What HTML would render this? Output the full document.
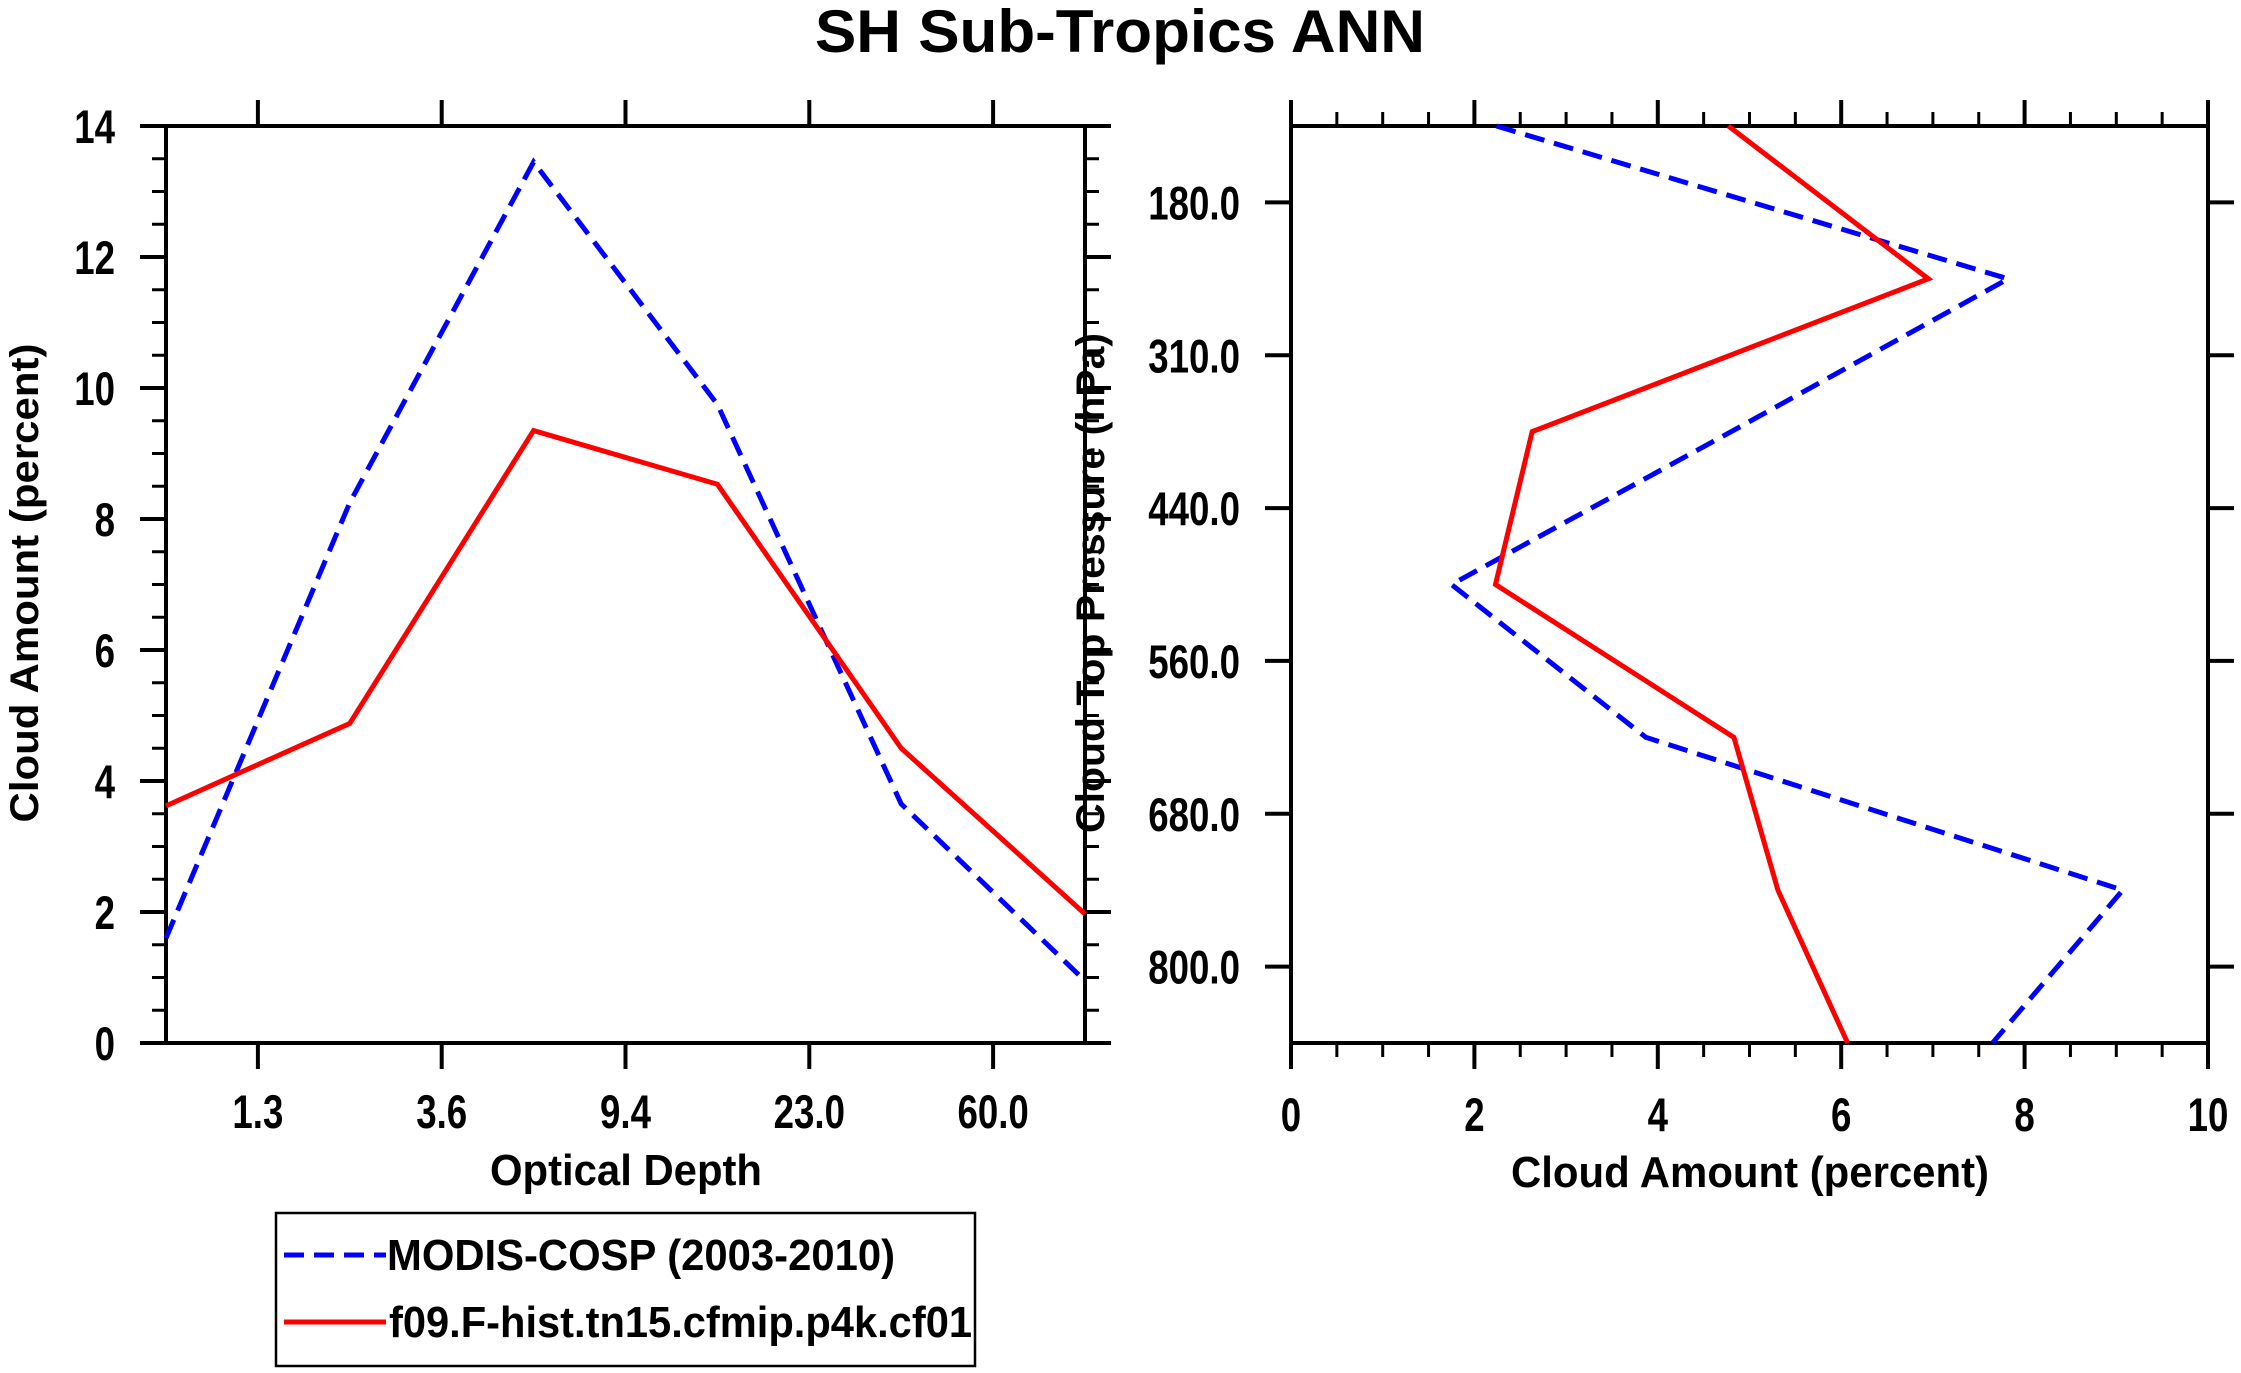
<!DOCTYPE html>
<html><head><meta charset="utf-8"><style>
html,body{margin:0;padding:0;background:#fff}
svg{display:block}
text{font-family:"Liberation Sans",sans-serif;font-weight:bold;fill:#000}
</style></head><body>
<svg id="chart" xmlns="http://www.w3.org/2000/svg" width="2241" height="1373" viewBox="0 0 2241 1373">
<text x="1120" y="52" font-size="60" text-anchor="middle" textLength="610" lengthAdjust="spacingAndGlyphs">SH Sub-Tropics ANN</text>
<g id="left"></g>
<g id="right"></g>
<g>
<rect x="276" y="1213" width="699" height="153" fill="none" stroke="#000" stroke-width="2.5"/>
<line x1="284" y1="1255" x2="386" y2="1255" stroke="#0000ff" stroke-width="5" stroke-dasharray="20 10"/>
<text x="387" y="1270" font-size="44" textLength="508" lengthAdjust="spacingAndGlyphs">MODIS-COSP (2003-2010)</text>
<line x1="284" y1="1322" x2="386" y2="1322" stroke="#ff0000" stroke-width="5"/>
<text x="389" y="1337" font-size="44" textLength="583" lengthAdjust="spacingAndGlyphs">f09.F-hist.tn15.cfmip.p4k.cf01</text>
</g>
</svg>
<script>
// Left panel data
const odCategoryIndex = [0, 1, 2, 3, 4, 5];
const odTickLabels = ["1.3", "3.6", "9.4", "23.0", "60.0"];
const odModis = [1.6, 8.25, 13.45, 9.75, 3.65, 0.95];
const odModel = [3.62, 4.88, 9.35, 8.53, 4.5, 1.97];
const odYTicks = [0, 2, 4, 6, 8, 10, 12, 14];
// Right panel data
const ctpLevelIndex = [0, 1, 2, 3, 4, 5, 6];
const ctpTickLabels = ["180.0", "310.0", "440.0", "560.0", "680.0", "800.0"];
const ctpModis = [2.24, 7.82, 4.8, 1.75, 3.87, 9.07, 7.65];
const ctpModel = [4.77, 6.95, 2.63, 2.23, 4.83, 5.31, 6.07];
const amtXTicks = [0, 2, 4, 6, 8, 10];

const NS = "http://www.w3.org/2000/svg";
function mk(parent, tag, attrs) {
  const e = document.createElementNS(NS, tag);
  for (const k in attrs) e.setAttribute(k, attrs[k]);
  parent.appendChild(e);
  return e;
}
const T = 26, TM = 14, SW = 4, LW = 5, FS = 47, SX = 0.78;
function label(parent, x, y, txt, anchor) {
  const t = mk(parent, 'text', {x: 0, y: 0, 'font-size': FS, 'text-anchor': anchor, transform: 'translate(' + x + ',' + y + ') scale(' + SX + ',1)'});
  t.textContent = txt;
  return t;
}

// ---- Left panel
const L = document.getElementById('left');
const lx0 = 166, lx1 = 1085, ly0 = 126, ly1 = 1043;
const lxs = v => lx0 + (lx1 - lx0) * v / 5;
const lys = v => ly1 - (ly1 - ly0) * v / 14;
for (let v = 0; v <= 14; v += 0.5) {
  const major = v % 2 === 0;
  const len = major ? T : TM;
  const t1 = mk(L, 'line', {x1: lx0 - len, y1: lys(v), x2: lx0, y2: lys(v), stroke: '#000', 'stroke-width': major ? 4 : 3});
  
  
  const t2 = mk(L, 'line', {x1: lx1, y1: lys(v), x2: lx1 + len, y2: lys(v), stroke: '#000', 'stroke-width': major ? 4 : 3});
  
  
}
odYTicks.forEach(v => {
  const t = label(L, 115, lys(v) + 17, String(v), 'end');
  
  
});
odTickLabels.forEach((lab, i) => {
  const x = lxs(i + 0.5);
  const a = mk(L, 'line', {x1: x, y1: ly1, x2: x, y2: ly1 + T, stroke: '#000', 'stroke-width': 4});
  
  
  const b = mk(L, 'line', {x1: x, y1: ly0 - T, x2: x, y2: ly0, stroke: '#000', 'stroke-width': 4});
  
  
  const t = label(L, x, 1128, lab, 'middle');
  
  
});
const lframe = mk(L, 'rect', {x: lx0, y: ly0, width: lx1 - lx0, height: ly1 - ly0, fill: 'none', stroke: '#000', 'stroke-width': SW});


const lm = mk(L, 'polyline', {points: odCategoryIndex.map(i => lxs(i) + ',' + lys(odModis[i])).join(' '), fill: 'none', stroke: '#0000ff', 'stroke-width': LW, 'stroke-dasharray': '20 10'});


const lr = mk(L, 'polyline', {points: odCategoryIndex.map(i => lxs(i) + ',' + lys(odModel[i])).join(' '), fill: 'none', stroke: '#ff0000', 'stroke-width': LW});


const lxt = mk(L, 'text', {x: 626, y: 1185, 'font-size': 44, 'text-anchor': 'middle', textLength: 272, lengthAdjust: 'spacingAndGlyphs'});
lxt.textContent = 'Optical Depth';


const lyt = mk(L, 'text', {x: 0, y: 0, 'font-size': 40, 'text-anchor': 'middle', transform: 'translate(38,583) rotate(-90)', textLength: 479, lengthAdjust: 'spacingAndGlyphs'});
lyt.textContent = 'Cloud Amount (percent)';



// ---- Right panel
const R = document.getElementById('right');
const rx0 = 1291, rx1 = 2208, ry0 = 126, ry1 = 1043;
const rxs = v => rx0 + (rx1 - rx0) * v / 10;
const rys = i => ry0 + (ry1 - ry0) * i / 6;
for (let v = 0; v <= 10; v += 0.5) {
  const major = v % 2 === 0;
  const len = major ? T : TM;
  const a = mk(R, 'line', {x1: rxs(v), y1: ry1, x2: rxs(v), y2: ry1 + len, stroke: '#000', 'stroke-width': major ? 4 : 3});
  
  
  const b = mk(R, 'line', {x1: rxs(v), y1: ry0 - len, x2: rxs(v), y2: ry0, stroke: '#000', 'stroke-width': major ? 4 : 3});
  
  
}
amtXTicks.forEach(v => {
  const t = label(R, rxs(v), 1131, String(v), 'middle');
  
  
});
ctpTickLabels.forEach((lab, i) => {
  const y = rys(i + 0.5);
  const a = mk(R, 'line', {x1: rx0 - T, y1: y, x2: rx0, y2: y, stroke: '#000', 'stroke-width': 4});
  
  
  const b = mk(R, 'line', {x1: rx1, y1: y, x2: rx1 + T, y2: y, stroke: '#000', 'stroke-width': 4});
  
  
  const t = label(R, 1240, y + 17, lab, 'end');
  
  
});
const rframe = mk(R, 'rect', {x: rx0, y: ry0, width: rx1 - rx0, height: ry1 - ry0, fill: 'none', stroke: '#000', 'stroke-width': SW});


const rm = mk(R, 'polyline', {points: ctpLevelIndex.map(i => rxs(ctpModis[i]) + ',' + rys(i)).join(' '), fill: 'none', stroke: '#0000ff', 'stroke-width': LW, 'stroke-dasharray': '20 10'});


const rr = mk(R, 'polyline', {points: ctpLevelIndex.map(i => rxs(ctpModel[i]) + ',' + rys(i)).join(' '), fill: 'none', stroke: '#ff0000', 'stroke-width': LW});


const rxt = mk(R, 'text', {x: 1750, y: 1187, 'font-size': 44, 'text-anchor': 'middle', textLength: 478, lengthAdjust: 'spacingAndGlyphs'});
rxt.textContent = 'Cloud Amount (percent)';


const ryt = mk(R, 'text', {x: 0, y: 0, 'font-size': 40, 'text-anchor': 'middle', transform: 'translate(1104,583) rotate(-90)', textLength: 500, lengthAdjust: 'spacingAndGlyphs'});
ryt.textContent = 'Cloud Top Pressure (hPa)';


</script>
</body></html>
